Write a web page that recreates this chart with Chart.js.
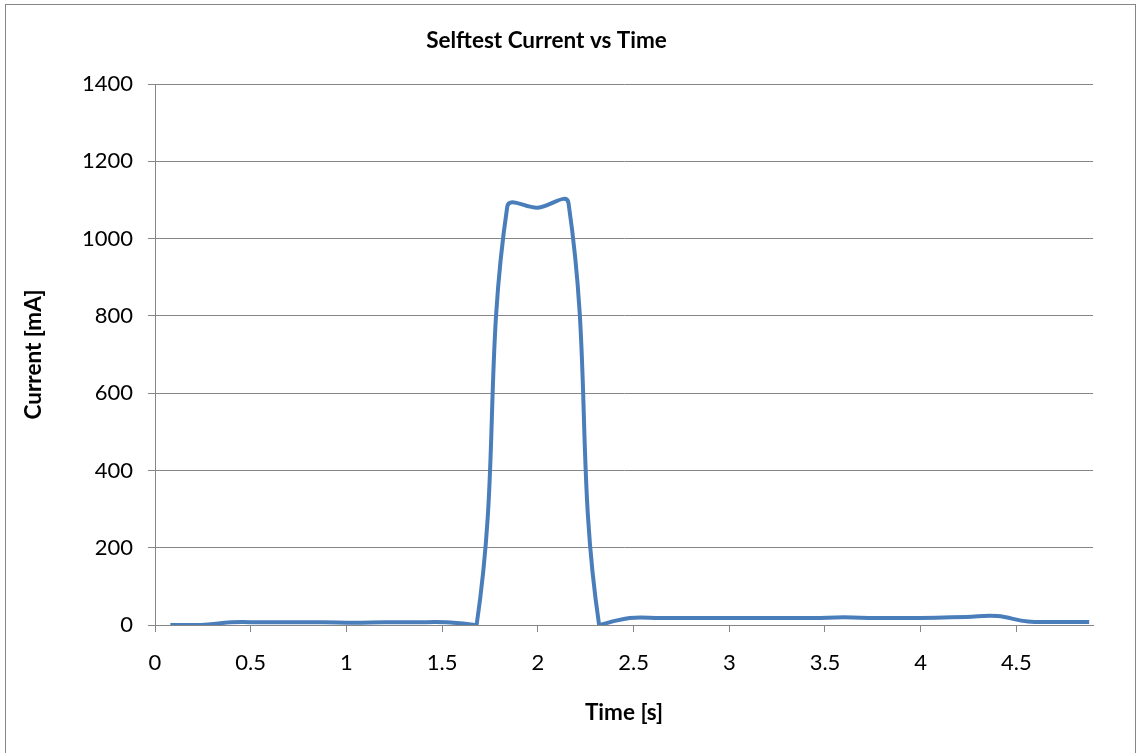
<!DOCTYPE html>
<html lang="en">
<head>
    <meta charset="UTF-8">
    <title>Selftest Current vs Time</title>
    <script src="https://cdn.jsdelivr.net/npm/chart.js"></script>
    <style>
        html, body {
            margin: 0;
            padding: 0;
            background: #fff;
            overflow: hidden;
        }
        .wrap {
            position: relative;
            width: 1137px;
            height: 753px;
        }
        .frame {
            position: absolute;
            left: 5px;
            top: 4px;
            width: 1131px;
            height: 760px;
            border: 1px solid #868686;
            box-sizing: border-box;
            pointer-events: none;
        }
    </style>
</head>
<body>
    <div class="wrap">
        <canvas id="currentChart"></canvas>
        <div class="frame"></div>
    </div>

    <script>
        // Sample times [s] and measured supply current [mA]
        const timeS = [0.08, 0.24, 0.40, 0.56, 0.72, 0.88, 1.04, 1.20, 1.36, 1.52,
                       1.68, 1.84, 2.00, 2.16, 2.32, 2.48, 2.64, 2.80, 2.96, 3.12,
                       3.28, 3.44, 3.60, 3.76, 3.92, 4.08, 4.24, 4.40, 4.56, 4.72, 4.88];
        const currentMA = [0, 0, 7, 7, 7, 7, 6, 7, 7, 7,
                           0, 1082, 1080, 1092, 0, 18, 18, 18, 18, 18,
                           18, 18, 20, 18, 18, 19, 21, 23, 9, 8, 8];
        const xTicks = [0, 0.5, 1, 1.5, 2, 2.5, 3, 3.5, 4, 4.5];
        const yTicks = [0, 200, 400, 600, 800, 1000, 1200, 1400];

        const gridGrey = '#868686';
        const fontFamily = 'Lato, "Open Sans", sans-serif';
        const titleFont = { family: fontFamily, size: 22.5, weight: 'bold', lineHeight: 1.2 };
        const tickFont = { family: fontFamily, size: 22 };

        const points = timeS.map((t, i) => ({ x: t, y: currentMA[i] }));

        new Chart(document.getElementById('currentChart'), {
            type: 'line',
            data: {
                datasets: [{
                    label: 'Current',
                    data: points,
                    borderColor: '#4a7ebb',
                    borderWidth: 4,
                    pointRadius: 0,
                    tension: 0.4,
                    fill: false
                }]
            },
            options: {
                responsive: true,
                maintainAspectRatio: false,
                animation: false,
                layout: {
                    padding: { left: 0, right: 44, top: 0, bottom: 0 }
                },
                plugins: {
                    legend: { display: false },
                    tooltip: { enabled: false },
                    title: {
                        display: true,
                        text: 'Selftest Current vs Time',
                        color: '#000',
                        font: titleFont,
                        padding: { top: 27, bottom: 30 }
                    }
                },
                scales: {
                    x: {
                        type: 'linear',
                        min: 0,
                        max: 4.9,
                        afterBuildTicks: (scale) => {
                            scale.ticks = xTicks.map(v => ({ value: v }));
                        },
                        afterFit: (scale) => { scale.height = 128; },
                        grid: {
                            drawOnChartArea: false,
                            color: gridGrey,
                            tickLength: 7
                        },
                        border: { color: gridGrey, width: 1 },
                        ticks: {
                            color: '#000',
                            padding: 18,
                            maxRotation: 0,
                            font: tickFont,
                            callback: (v) => String(v)
                        },
                        title: {
                            display: true,
                            text: 'Time [s]',
                            color: '#000',
                            font: titleFont,
                            padding: { top: 0, bottom: 27 }
                        }
                    },
                    y: {
                        min: 0,
                        max: 1400,
                        afterBuildTicks: (scale) => {
                            scale.ticks = yTicks.map(v => ({ value: v }));
                        },
                        afterFit: (scale) => { scale.width = 155; },
                        grid: {
                            color: gridGrey,
                            tickLength: 7
                        },
                        border: { color: gridGrey, width: 1 },
                        ticks: {
                            color: '#000',
                            padding: 15,
                            font: tickFont,
                            callback: (v) => String(v)
                        },
                        title: {
                            display: true,
                            text: 'Current [mA]',
                            color: '#000',
                            font: titleFont,
                            padding: { top: 20, bottom: 0 }
                        }
                    }
                }
            }
        });
    </script>
</body>
</html>
